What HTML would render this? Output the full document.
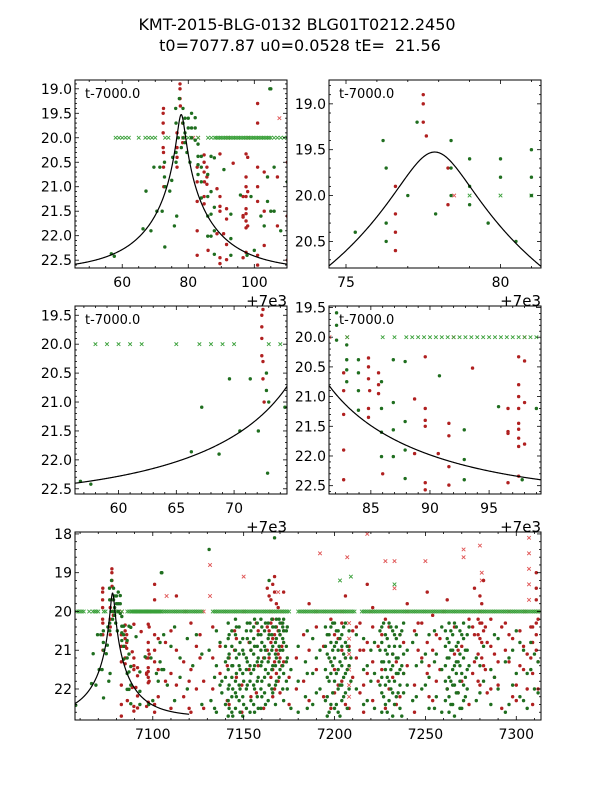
<!DOCTYPE html>
<html><head><meta charset="utf-8">
<style>
html,body{margin:0;padding:0;background:#fff;}
svg{display:block;font-family:"DejaVu Sans","Liberation Sans",sans-serif;}
</style></head>
<body>
<svg id="fig" width="600" height="800" viewBox="0 0 600 800" xmlns="http://www.w3.org/2000/svg">
<rect width="600" height="800" fill="#fff"/>
<text x="297" y="30" font-size="16" text-anchor="middle">KMT-2015-BLG-0132 BLG01T0212.2450</text>
<text x="300" y="51" font-size="16" text-anchor="middle" xml:space="preserve">t0=7077.87 u0=0.0528 tE=  21.56</text>
<g id="layer"></g>
</svg>
<script>
// model parameters
const modelT0 = [77.87];
const modelU0 = [0.0528];
const modelTE = [21.56];
const modelBase = [22.72];
const FLAG_MAG = [20.0];

// green data points (t-7000, mag)
const greenT = [56.7,57.6,66.3,67.2,68.7,69.6,70.5,71.4,72.1,72.8,72.8,73.0,72.9,74.4,75.0,75.3,75.8,76.2,76.3,76.3,76.3,76.5,77.0,77.3,77.9,78.4,78.4,78.4,79.0,79.0,79.0,79.6,80.0,80.0,80.5,81.0,81.0,81.0,82.1,82.1,82.1,82.96,82.96,82.96,82.96,83.95,83.95,83.95,83.95,85.9,85.9,85.9,85.9,86.9,86.9,86.9,86.9,87.9,87.9,87.9,87.9,90.8,92.9,92.9,92.9,95.8,97.8,99.0,100.0,102.0,103.0,104.0,104.0,105,105,104.7,106,106,108,110,112,112,115,115,119,119,122,124,127,127,
131,131,132,135,135,135,138,138,140,140,140,140,142,142,142,142,144,144,144,146,146,146,146,148,148,148,148,150,150,150,152,152,152,152,154,154,154,154,156,156,156,156,156,158,158,158,158,160,160,160,160,160,162,162,162,162,164,164,164,164,166,166,166,166,167,168,168,168,168,170,170,170,170,172,172,172,172,172,174,174,174,176,176,180,180,180,184,184,188,188,188,192,192,195,195,195,195,197,197,197,197,199,199,199,199,201,201,201,201,203,203,203,203,205,205,205,205,207,207,207,209,209,212,212,218,218,222,222,222,225,225,225,227,227,227,229,229,229,229,231,231,231,233,233,233,233,235,235,235,237,237,237,240,240,243,243,248,248,252,252,252,256,256,259,259,259,262,262,262,264,264,264,264,266,266,266,266,268,268,268,270,270,270,272,272,272,274,274,278,278,282,282,286,286,290,290,294,294,298,298,302,302,306,306,310,310];
const greenM = [22.37,22.42,21.86,21.09,21.9,20.6,21.5,20.6,21.5,20.5,20.8,21.0,22.23,21.09,20.87,20.4,21.8,19.4,19.7,20.3,20.5,21.6,20.0,19.2,20.2,19.4,19.7,20.0,19.6,19.9,20.1,20.3,19.6,19.8,20.5,19.5,19.8,20.0,19.59,19.8,20.05,20.13,20.38,20.55,20.75,20.38,20.6,20.9,21.23,20.75,21.2,21.6,22.01,20.38,21.1,21.56,22.01,20.41,21.42,21.9,22.38,20.65,21.56,22.06,22.40,21.17,22.4,21.2,22.3,21.6,21.8,20.8,21.3,19.0,21.5,19.0,20.6,21.5,21.9,20.9,20.4,22.3,21.2,21.7,20.7,22.0,21.4,20.6,21.1,22.4,
18.4,21.0,22.3,20.5,21.4,22.6,21.8,22.1,20.9,21.3,21.7,22.4,20.6,21.1,21.9,22.5,21.4,22.0,22.7,20.4,21.2,21.6,22.2,20.8,21.5,22.0,22.6,21.1,21.8,22.4,20.3,20.7,21.3,21.9,20.5,21.0,21.6,22.3,20.2,20.9,21.4,22.0,22.6,20.6,21.2,21.7,22.5,20.4,20.8,21.3,21.8,22.2,20.3,21.0,21.5,22.4,19.2,20.6,21.1,21.9,20.4,20.9,21.4,22.1,18.1,20.2,20.7,21.2,21.8,20.3,20.6,21.0,21.5,20.2,20.5,20.8,21.6,22.3,20.4,21.2,22.0,21.5,22.5,20.9,21.8,22.6,21.3,22.2,20.7,21.6,22.4,21.0,22.0,20.4,20.9,21.5,22.3,20.6,21.2,21.8,22.6,20.3,21.0,21.4,22.1,20.5,20.8,21.6,22.4,20.7,21.3,21.9,22.7,20.4,21.1,21.7,22.2,20.9,21.5,22.5,21.2,21.8,20.6,22.0,21.4,22.3,20.8,21.6,22.5,20.5,21.0,21.9,20.3,21.3,22.2,20.7,21.1,21.7,22.6,20.4,21.5,22.0,20.6,20.9,21.8,22.4,21.2,21.6,22.1,20.5,21.4,22.7,21.0,21.9,20.8,22.3,21.3,22.0,20.6,21.7,22.5,21.1,22.2,20.4,21.5,22.6,20.7,21.2,22.0,20.5,21.0,21.8,22.4,20.3,21.4,21.9,22.7,20.8,21.3,22.1,20.6,21.6,22.5,21.0,21.7,22.2,20.4,21.4,21.2,22.3,20.9,21.8,21.5,22.4,20.7,22.0,21.3,22.6,21.0,21.9,20.8,22.2,21.6,22.5,21.1,22.0];

// additional green points (second camera pass)
const greenT2 = [141.5,141.5,141.5,141.5,141.5,141.5,141.5,143.5,143.5,143.5,143.5,143.5,143.5,145.5,145.5,145.5,145.5,145.5,145.5,147.5,147.5,147.5,147.5,147.5,149.5,149.5,149.5,149.5,149.5,151.5,151.5,151.5,151.5,151.5,153.5,153.5,153.5,153.5,153.5,155.5,155.5,155.5,155.5,155.5,155.5,157.5,157.5,157.5,157.5,157.5,159.5,159.5,159.5,159.5,159.5,159.5,161.5,161.5,161.5,161.5,161.5,163.5,163.5,163.5,163.5,163.5,165.5,165.5,165.5,165.5,165.5,167.5,167.5,167.5,167.5,167.5,167.5,169.5,169.5,169.5,169.5,169.5,171.5,171.5,171.5,171.5,171.5,171.5,173.5,173.5,173.5,173.5,
196,196,196,196,196,198,198,198,198,198,200,200,200,200,200,202,202,202,202,202,204,204,204,204,204,206,206,206,206,206,208,208,208,208,
226,226,226,226,226,226,228,228,228,228,228,230,230,230,230,230,232,232,232,232,232,234,234,234,234,234,236,236,236,236,236,238,238,238,238,
261,261,261,261,261,263,263,263,263,263,263,265,265,265,265,265,267,267,267,267,267,269,269,269,269,269,271,271,271,271,271,273,273,273,273,
216,216,216,220,220,245,245,245,250,250,255,255,255,280,280,288,288,296,296,300,300,304,304,308,308,312,312,185,185,185,190,190,134,134,137,137];
const greenM2 = [20.3,20.7,21.2,21.5,22.0,22.3,22.7,20.5,20.9,21.4,21.7,22.2,22.6,20.2,20.6,21.0,21.8,22.1,22.5,20.4,21.1,21.4,21.9,22.3,20.7,21.0,21.6,22.2,22.7,20.5,21.2,21.5,22.0,22.5,20.3,20.8,21.4,21.8,22.6,20.4,20.7,21.1,21.5,21.9,22.4,20.3,20.9,21.3,21.8,22.2,20.2,20.6,21.0,21.4,22.0,22.5,20.5,20.9,21.2,21.7,22.1,20.3,20.7,21.3,21.6,22.3,20.2,20.6,21.0,21.5,22.0,20.4,20.8,21.1,21.4,21.9,22.4,20.2,20.5,20.9,21.3,21.7,20.3,20.4,20.7,21.0,21.4,22.0,20.5,20.9,21.3,21.8,
20.6,21.1,21.7,22.2,22.7,20.4,20.8,21.3,21.6,22.4,20.3,20.9,21.2,21.8,22.5,20.5,21.0,21.5,22.0,22.6,20.6,20.9,21.4,21.9,22.3,20.3,20.8,21.2,21.6,22.1,20.5,21.0,21.4,22.0,
20.4,20.8,21.3,21.7,22.1,22.6,20.6,21.0,21.5,21.9,22.4,20.3,20.9,21.3,21.8,22.3,20.5,21.1,21.4,22.1,22.7,20.4,20.7,21.2,21.6,22.2,20.6,20.9,21.5,21.9,22.5,20.3,21.1,21.6,22.1,
20.5,20.9,21.4,21.8,22.3,20.3,20.8,21.2,21.7,22.2,22.6,20.6,21.0,21.5,21.9,22.4,20.4,20.9,21.3,21.6,22.1,20.5,21.1,21.4,21.8,22.5,20.3,20.7,21.2,21.9,22.3,20.6,21.0,21.5,22.0,
20.7,21.5,22.4,21.0,21.8,20.6,21.4,22.2,21.1,21.9,20.5,21.3,22.5,21.4,22.1,20.6,21.7,21.2,22.4,20.5,21.6,21.0,22.3,20.8,21.5,21.3,22.1,20.5,21.6,22.5,21.2,22.1,21.7,22.5,20.8,21.9];

// red data points (t-7000, mag)
const redT = [72.4,72.4,72.4,72.4,72.5,72.5,72.5,72.6,76.6,76.6,76.6,76.6,77.5,77.5,77.5,77.6,78.3,78.3,82.7,82.7,82.7,82.7,82.7,82.7,84.8,84.8,84.8,84.9,84.8,84.8,85.65,85.65,85.65,86.0,88.7,88.7,89.6,89.6,89.6,89.6,89.6,89.6,90.7,91.6,91.6,91.6,91.6,93.6,96.6,96.6,96.6,96.6,97.5,97.5,97.5,97.5,97.5,97.5,97.5,97.5,97.5,101,101,101,101,101,101,101,107,107,110,110,110,113,113,113,117,117,121,121,121,124,124,
128,128,133,133,133,137,137,141,141,145,145,149,149,153,153,157,157,161,161,163,163,163,165,165,165,165,167,167,167,167,167,169,169,169,169,171,171,171,175,175,179,179,183,183,186,186,186,190,190,194,194,198,198,198,202,202,206,206,206,210,210,214,214,214,218,218,218,221,221,221,221,224,224,228,228,232,232,236,236,240,240,244,244,244,248,248,251,251,251,254,254,254,258,258,262,262,266,266,270,270,274,274,277,277,277,280,280,280,280,282,282,282,284,284,288,288,292,292,296,296,300,300,304,304,308,308,311,311,311,311,311,311];
const redM = [19.5,19.7,19.9,20.2,19.4,20.3,20.6,21.0,19.9,20.2,20.4,20.6,18.9,19.0,19.2,19.35,19.7,20.1,20.6,20.9,21.3,21.9,22.4,22.7,20.35,20.5,20.7,20.9,21.2,21.35,20.6,20.8,20.95,22.3,21.04,21.96,20.33,21.2,21.4,21.5,22.45,22.57,21.96,21.45,21.66,22.18,22.49,20.52,21.2,21.59,21.62,22.45,20.33,20.8,21.0,21.2,21.45,21.55,21.7,21.84,22.34,19.3,19.7,20.6,21.0,21.3,22.4,22.6,20.8,21.8,20.5,21.6,22.5,19.6,21.0,21.9,21.3,22.2,20.3,21.5,22.6,20.9,22.0,
21.8,22.5,20.4,21.2,22.0,20.9,21.6,21.4,22.3,20.5,21.0,21.9,22.6,20.8,21.5,20.3,22.1,21.2,22.5,19.4,20.4,21.0,19.7,20.3,20.8,21.7,19.1,19.5,20.6,21.3,22.0,19.9,20.5,21.1,21.8,20.3,20.9,21.4,21.7,22.4,21.2,22.0,20.6,21.8,19.8,21.0,22.3,20.4,21.5,20.9,22.2,20.2,21.3,22.5,20.7,21.9,19.6,21.2,22.4,20.5,21.7,20.3,21.0,22.1,19.3,20.8,21.6,19.9,20.4,21.3,22.3,20.9,21.8,20.2,22.5,21.1,21.7,20.6,22.2,19.8,21.4,20.5,21.9,22.6,20.3,21.2,19.5,20.8,21.6,20.1,21.0,22.3,20.7,21.5,19.7,22.0,20.4,21.1,20.9,21.8,20.2,22.4,19.4,20.6,21.3,19.6,20.3,20.7,21.9,19.2,20.5,21.4,20.8,22.1,21.1,21.7,20.4,22.5,20.6,21.3,21.9,22.3,20.9,21.5,20.4,21.2,19.0,19.4,19.7,20.3,20.6,21.0];

// additional red points
const redT2 = [164,164,164,164,166,166,166,166,166,168,168,168,168,170,170,170,172,172,172,142,142,146,146,154,154,158,158,200,200,200,204,204,204,208,208,208,212,212,216,216,216,226,226,230,230,234,234,238,238,246,246,252,252,256,256,268,268,276,276,279,279,279,279,281,281,281,281,283,283,286,286,286,290,290,294,294,298,298,302,302,306,306,309,309,309,309,312,312,312,120,120,126,126,98,98,98,103,103,103];
const redM2 = [19.6,20.5,21.2,21.9,19.3,20.2,20.7,21.5,22.2,19.8,20.4,21.0,21.6,20.6,21.2,22.1,19.5,20.5,21.3,21.2,22.4,20.7,21.7,21.0,22.2,20.5,21.4,20.6,21.5,22.1,20.3,21.0,21.8,20.9,21.4,22.5,20.4,21.2,21.0,21.9,22.6,20.6,21.5,20.4,22.0,21.3,22.4,20.8,21.6,20.3,21.0,21.4,22.2,20.6,21.8,21.0,22.1,20.4,21.6,20.2,20.6,21.1,21.8,19.8,20.3,20.8,21.2,20.4,21.5,20.2,20.9,22.0,21.3,21.9,20.3,21.0,20.7,22.2,20.5,21.4,21.1,22.0,20.4,20.8,21.6,22.4,20.2,21.3,22.0,21.8,22.5,20.6,21.2,20.4,21.1,21.8,20.7,21.5,22.2];

// flagged (cross) points at FLAG_MAG
const flagGreenT = [58,59,60,61,62,65,67,68,69,70,73,74,79,80,81,83,86,87,88,88.5,89,89.5,90,90.5,91,91.5,92,92.5,93,93.5,94,94.5,95,95.5,96,96.5,97,97.5,98,98.5,99,99.5,100,100.5,101,101.5,102,102.5,103,103.5,104,104.5,105,106,107,108,109,110,111,112,113,114,115,116,117,118,119,120,121,122,123,124,125,126,127,133,134,135,136,137,138,139,140,141,142,143,144,145,146,147,148,149,150,151,152,153,154,155,156,157,158,159,160,161,162,163,164,165,166,167,168,169,170,171,172,173,174,175,180,181,182,183,184,185,186,187,188,189,190,191,192,193,194,195,196,197,198,199,200,201,202,203,204,205,206,207,208,209,210,211,215,216,217,218,219,220,221,222,223,224,225,226,227,228,229,230,231,232,233,234,235,236,237,238,239,240,241,242,243,244,245,246,247,248,249,250,251,252,253,254,255,256,257,258,259,260,261,262,263,264,265,266,267,268,269,270,271,272,273,274,275,276,277,278,279,280,281,282,283,284,285,286,287,288,289,290,291,292,293,294,295,296,297,298,299,300,301,302,303,304,305,306,307,308,309,310,311,312,313];
const flagRedT = [78.5,81.5,83,92,98,118,128,150,165,171,190,204,220,240,260,280,296,305,312];

// other cross points (t-7000, mag)
const redXT = [107.6,131.5,131.5,150,169,192,207,208,208,208,208,208,208,218,228,233,233,250,271,271,280,281,281,307,307,307,307,307];
const redXM = [19.6,18.8,19.6,19.1,19.5,18.5,18.6,20.3,20.7,21.1,21.5,21.9,22.2,18.0,18.7,18.7,19.4,18.7,18.4,18.6,18.3,19.0,19.2,18.1,18.5,18.9,19.3,19.7];
const greenXT = [203,209,233];
const greenXM = [19.2,19.1,19.3];

// panel definitions
const panelNames = ['panel-zoom-peak','panel-zoom-top','panel-zoom-rise','panel-zoom-fall','panel-full'];
const xTicks = [[60,80,100],[75,80],[60,65,70],[85,90,95],[100,150,200,250,300]];
const xTickLabels = [['60','80','100'],['75','80'],['60','65','70'],['85','90','95'],['7100','7150','7200','7250','7300']];
const yTicks = [[19.0,19.5,20.0,20.5,21.0,21.5,22.0,22.5],[19.0,19.5,20.0,20.5],[19.5,20.0,20.5,21.0,21.5,22.0,22.5],[19.5,20.0,20.5,21.0,21.5,22.0,22.5],[18,19,20,21,22]];
const yTickLabels = [['19.0','19.5','20.0','20.5','21.0','21.5','22.0','22.5'],['19.0','19.5','20.0','20.5'],['19.5','20.0','20.5','21.0','21.5','22.0','22.5'],['19.5','20.0','20.5','21.0','21.5','22.0','22.5'],['18','19','20','21','22']];

const NS='http://www.w3.org/2000/svg';
const layer=document.getElementById('layer');
const boxes=[[75,80,287,268],[329,80,541,268],[75,306,287,494],[329,306,541,494],[75,532,541,720]];
const tDom=[[45.7,109.9],[74.45,81.31],[56.23,74.58],[81.46,99.39],[57.2,313.6]];
const mDom=[[18.82,22.66],[18.74,20.79],[19.34,22.59],[19.475,22.64],[17.95,22.8]];
const xMinor=[5,1,1,1,10], yMinor=[0.1,0.1,0.1,0.1,0.2];
const curveEnd=[null,null,null,null,120];

function mk(tag,attrs,parent){const e=document.createElementNS(NS,tag);for(const k in attrs)e.setAttribute(k,attrs[k]);(parent||layer).appendChild(e);return e;}
function model(t){const u=Math.sqrt(modelU0[0]*modelU0[0]+Math.pow((t-modelT0[0])/modelTE[0],2));const A=(u*u+2)/(u*Math.sqrt(u*u+4));return modelBase[0]-2.5*Math.log10(A);}

const allGT=greenT.concat(greenT2), allGM=greenM.concat(greenM2);
const allRT=redT.concat(redT2), allRM=redM.concat(redM2);

boxes.forEach((b,i)=>{
  const [x0,y0,x1,y1]=b;
  const xs=t=>x0+(t-tDom[i][0])/(tDom[i][1]-tDom[i][0])*(x1-x0);
  const ys=m=>y0+(m-mDom[i][0])/(mDom[i][1]-mDom[i][0])*(y1-y0);
  const g=mk('g',{});
  
  
  const cid='clip'+i;
  const cp=mk('clipPath',{id:cid},g);mk('rect',{x:x0,y:y0,width:x1-x0,height:y1-y0},cp);
  const pg=mk('g',{'clip-path':'url(#'+cid+')'},g);
  
  
  const cross=(t,m,col,nm)=>{const x=xs(t),y=ys(m);if(x<x0-3||x>x1+3)return;const p=mk('path',{d:`M${x-1.8},${y-1.8}L${x+1.8},${y+1.8}M${x-1.8},${y+1.8}L${x+1.8},${y-1.8}`,stroke:col,'stroke-width':0.9,fill:'none'},pg);
    
    };
  flagRedT.forEach(t=>cross(t,FLAG_MAG[0],'#e05555','flag-cross-red'));
  flagGreenT.forEach(t=>cross(t,FLAG_MAG[0],'#3aa03a','flag-cross-green'));
  greenXT.forEach((t,j)=>cross(t,greenXM[j],'#3aa03a','cross-green'));
  redXT.forEach((t,j)=>cross(t,redXM[j],'#e05555','cross-red'));
  const dot=(t,m,col,nm)=>{const x=xs(t);if(x<x0-3||x>x1+3)return;const c=mk('circle',{cx:x,cy:ys(m),r:1.7,fill:col},pg);
    
    };
  allRT.forEach((t,j)=>dot(t,allRM[j],'#b02020','point-red'));
  allGT.forEach((t,j)=>dot(t,allGM[j],'#1f6e1f','point-green'));
  const tEnd=curveEnd[i]===null?tDom[i][1]:curveEnd[i];
  let d='';const N=400;
  for(let k=0;k<=N;k++){const t=tDom[i][0]+(tEnd-tDom[i][0])*k/N;d+=(k?'L':'M')+xs(t).toFixed(2)+','+ys(model(t)).toFixed(2);}
  const cv=mk('path',{d:d,stroke:'#000','stroke-width':1.2,fill:'none'},pg);
  
  
  const tk=mk('g',{stroke:'#000','stroke-width':0.8},g);
  
  
  const mn=xMinor[i];
  for(let t=Math.ceil(tDom[i][0]/mn)*mn;t<=tDom[i][1];t+=mn){const x=xs(t);const major=xTicks[i].some(v=>Math.abs(v-t)<1e-6);const L=major?4:2;
    mk('line',{x1:x,y1:y1,x2:x,y2:y1-L},tk);mk('line',{x1:x,y1:y0,x2:x,y2:y0+L},tk);}
  const ym=yMinor[i];
  for(let m=Math.ceil(mDom[i][0]/ym-1e-6)*ym;m<=mDom[i][1];m+=ym){const y=ys(m);const major=yTicks[i].some(v=>Math.abs(v-m)<1e-6);const L=major?4:2;
    mk('line',{x1:x0,y1:y,x2:x0+L,y2:y},tk);mk('line',{x1:x1,y1:y,x2:x1-L,y2:y},tk);}
  mk('rect',{x:x0,y:y0,width:x1-x0,height:y1-y0,fill:'none',stroke:'#000','stroke-width':1},g);
  xTicks[i].forEach((v,j)=>{const tx=mk('text',{x:xs(v),y:y1+19,'font-size':14,'text-anchor':'middle'},g);tx.textContent=xTickLabels[i][j];
    
    });
  yTicks[i].forEach((v,j)=>{const tx=mk('text',{x:x0-3,y:ys(v)+5,'font-size':14,'text-anchor':'end'},g);tx.textContent=yTickLabels[i][j];
    
    });
  if(i<4){
    const lb=mk('text',{x:x0+10,y:y0+18,'font-size':13},g);lb.textContent='t-7000.0';
    
    
    const off=mk('text',{x:x1,y:y1+38,'font-size':15,'text-anchor':'end'},g);off.textContent='+7e3';
    
    
  }
});
</script>
</body></html>
